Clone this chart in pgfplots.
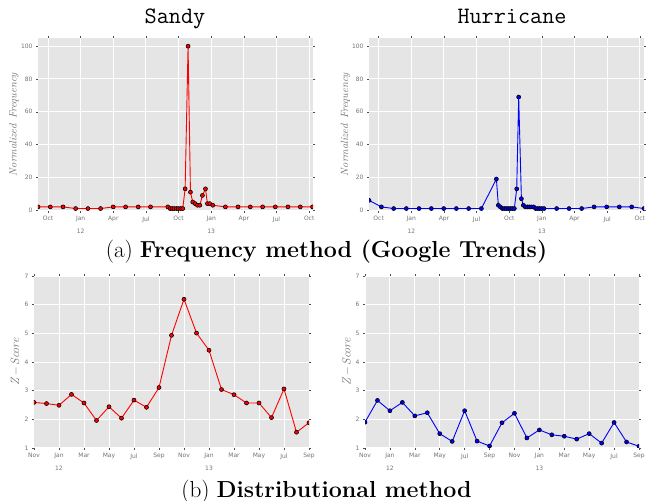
\documentclass[border=0pt]{standalone}
\usepackage{fontspec}
\usepackage{pgfplots}
\pgfplotsset{compat=1.18}
\newfontfamily\tickfont{DejaVu Sans}
\definecolor{bggray}{HTML}{E5E5E5}
\definecolor{myred}{HTML}{FF0000}
\definecolor{myblue}{HTML}{0000FF}
\pgfplotsset{
 ggstyle/.style={
  scale only axis,
  anchor=south west,
  axis background/.style={fill=bggray},
  axis line style={draw=none},
  grid=major,
  major grid style={white, line width=1pt},
  tick align=outside,
  major tick length=2pt,
  tick style={black!70, line width=0.5pt},
  ticklabel style={font=\tickfont\fontsize{6}{7.2}\selectfont, text=black!55},
  /pgf/number format/assume math mode=true,
  xticklabel style={align=center},
  clip marker paths=true,
  ylabel style={text=black!55},
 },
 redline/.style={myred, line width=0.9pt, mark=*, mark size=2pt, mark options={fill=myred, draw=black, line width=0.6pt}},
 blueline/.style={myblue, line width=0.9pt, mark=*, mark size=2pt, mark options={fill=myblue, draw=black, line width=0.6pt}},
}
\begin{document}
\begin{tikzpicture}
\useasboundingbox (0,0) rectangle (654pt,501pt);
% ---------- top left: Sandy frequency
\begin{axis}[ggstyle, at={(38pt,290pt)}, width=275pt, height=173pt,
  xmin=-3.92, xmax=21.35, ymin=-0.5, ymax=105,
  xtick={-3,0,...,21},
  xticklabels={Oct,{Jan\\[5pt]12},Apr,Jul,Oct,{Jan\\[5pt]13},Apr,Jul,Oct},
  ytick={0,20,...,100},
  ylabel={Normalized\hspace{0.6em}Frequency},
  ylabel style={font=\itshape\fontsize{10.5}{12}\selectfont, at={(axis description cs:-0.087,0.5)}, anchor=center}]
\addplot[redline] coordinates {
(-3.92,2) (-2.79,2) (-1.62,2) (-0.46,1) (0.67,1) (1.83,1) (2.99,2) (4.13,2)
(5.29,2) (6.42,2) (8.01,2) (8.22,1) (8.40,1) (8.58,1) (8.80,1) (8.98,1)
(9.20,1) (9.38,1) (9.60,13) (9.87,100) (10.09,11) (10.30,5) (10.52,4)
(10.73,3) (10.95,3) (11.19,9) (11.47,13) (11.65,4) (11.86,4) (12.14,3)
(13.30,2) (14.46,2) (15.59,2) (16.72,2) (17.89,2) (19.05,2) (20.18,2) (21.31,2)
};
\end{axis}
% ---------- top right: Hurricane frequency
\begin{axis}[ggstyle, at={(369pt,290pt)}, width=275pt, height=173pt,
  xmin=-3.89, xmax=21.39, ymin=-0.5, ymax=105,
  xtick={-3,0,...,21},
  xticklabels={Oct,{Jan\\[5pt]12},Apr,Jul,Oct,{Jan\\[5pt]13},Apr,Jul,Oct},
  ytick={0,20,...,100},
  ylabel={Normalized\hspace{0.6em}Frequency},
  ylabel style={font=\itshape\fontsize{10.5}{12}\selectfont, at={(axis description cs:-0.085,0.5)}, anchor=center}]
\addplot[blueline] coordinates {
(-3.89,6) (-2.75,2) (-1.62,1) (-0.46,1) (0.71,1) (1.84,1) (2.98,1) (4.14,1)
(5.27,1) (6.44,1) (7.82,19) (8.00,3) (8.18,2) (8.37,1) (8.55,1) (8.74,1)
(8.92,1) (9.10,1) (9.29,1) (9.47,1) (9.69,13) (9.87,69) (10.12,7) (10.30,3)
(10.48,2) (10.67,2) (10.85,2) (11.03,2) (11.25,2) (11.43,1) (11.62,1)
(11.80,1) (11.98,1) (12.20,1) (13.36,1) (14.50,1) (15.66,1) (16.80,2)
(17.96,2) (19.12,2) (20.26,2) (21.39,1)
};
\end{axis}
% ---------- bottom left: Sandy z-score
\begin{axis}[ggstyle, at={(34pt,53pt)}, width=275pt, height=172pt,
  xmin=-2, xmax=20, ymin=1, ymax=7,
  xtick={-2,0,...,20},
  xticklabels={Nov,{Jan\\[5pt]12},Mar,May,Jul,Sep,Nov,{Jan\\[5pt]13},Mar,May,Jul,Sep},
  ytick={1,2,...,7},
  ylabel={Z\,−\,Score},
  ylabel style={font=\itshape\fontsize{12}{14}\selectfont, at={(axis description cs:-0.069,0.5)}, anchor=center}]
\addplot[redline] coordinates {
(-2,2.59) (-1,2.55) (0,2.49) (1,2.87) (2,2.57) (3,1.96) (4,2.44) (5,2.04)
(6,2.67) (7,2.42) (8,3.11) (9,4.93) (10,6.19) (11,5.01) (12,4.41) (13,3.04)
(14,2.86) (15,2.57) (16,2.57) (17,2.06) (18,3.06) (19,1.55) (20,1.88)
};
\end{axis}
% ---------- bottom right: Hurricane z-score
\begin{axis}[ggstyle, at={(365pt,53pt)}, width=274pt, height=172pt,
  xmin=-2, xmax=20, ymin=1, ymax=7,
  xtick={-2,0,...,20},
  xticklabels={Nov,{Jan\\[5pt]12},Mar,May,Jul,Sep,Nov,{Jan\\[5pt]13},Mar,May,Jul,Sep},
  ytick={1,2,...,7},
  ylabel={Z\,−\,Score},
  ylabel style={font=\itshape\fontsize{12}{14}\selectfont, at={(axis description cs:-0.067,0.5)}, anchor=center}]
\addplot[blueline] coordinates {
(-2,1.90) (-1,2.66) (0,2.30) (1,2.59) (2,2.12) (3,2.23) (4,1.50) (5,1.23)
(6,2.30) (7,1.24) (8,1.07) (9,1.88) (10,2.21) (11,1.35) (12,1.63) (13,1.46)
(14,1.41) (15,1.31) (16,1.50) (17,1.17) (18,1.89) (19,1.21) (20,1.06)
};
\end{axis}
% ---------- titles and captions
\node[anchor=base, font=\ttfamily\fontsize{23.5}{28}\selectfont] at (175pt,477.7pt) {Sandy};
\node[anchor=base, font=\ttfamily\fontsize{23.5}{28}\selectfont] at (512pt,477.7pt) {Hurricane};
\node[anchor=base, font=\fontsize{23.2}{27}\selectfont] at (326.5pt,243.3pt) {(a) \textbf{Frequency method (Google Trends)}};
\node[anchor=base, font=\fontsize{23.2}{27}\selectfont] at (326.5pt,3.7pt) {(b) \textbf{Distributional method}};
\end{tikzpicture}
\end{document}
